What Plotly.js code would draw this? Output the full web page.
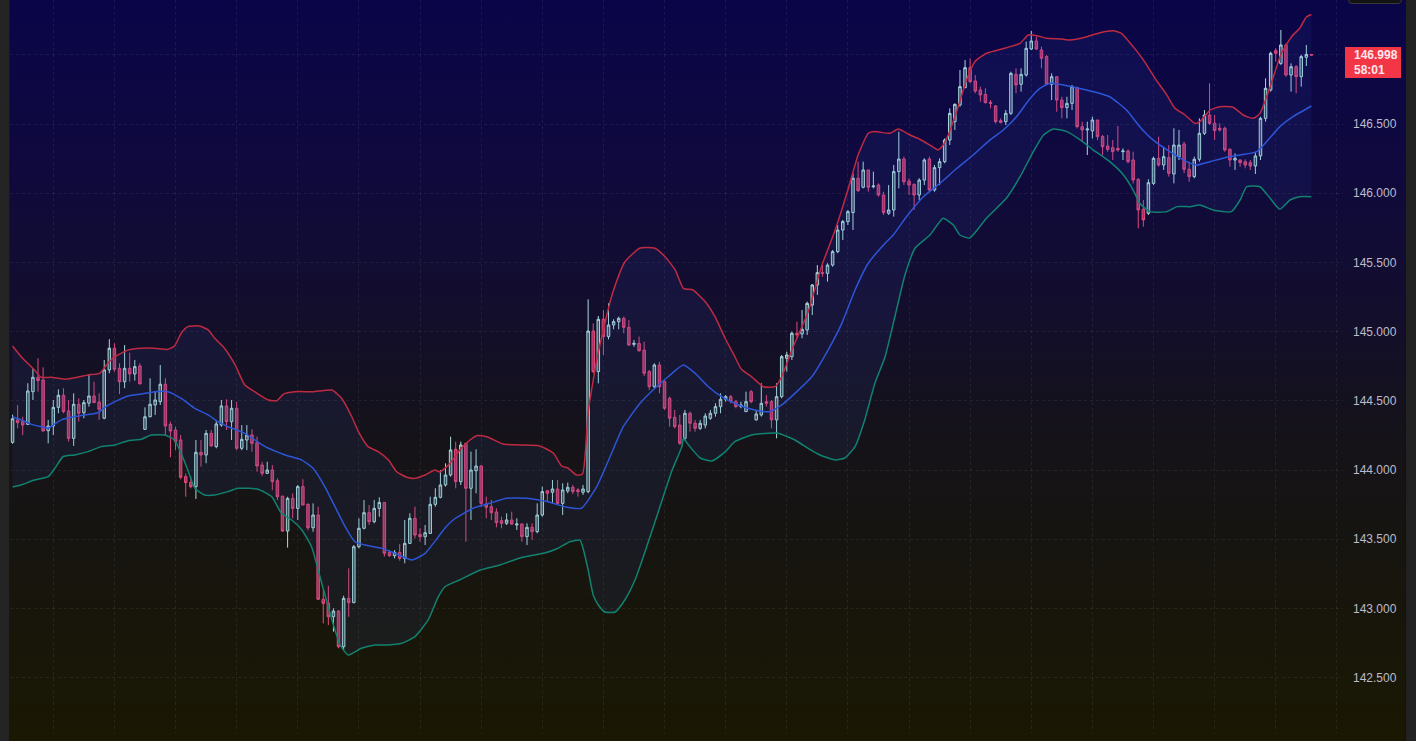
<!DOCTYPE html>
<html>
<head>
<meta charset="utf-8">
<script src="https://cdn.plot.ly/plotly-3.0.1.min.js"></script>
<style>
  html, body { margin: 0; padding: 0; background: #111; }
  #wrap { position: relative; width: 1416px; height: 741px; overflow: hidden;
    background: linear-gradient(to bottom, #0a0548 0%, #0f093e 22%, #130e2c 42%, #151318 60%, #17150d 78%, #1a1802 100%); }
  #lstrip { position: absolute; left: 0; top: 0; width: 9px; height: 741px; background: #242424; border-right: 1px solid #161616; }
  #rstrip { position: absolute; left: 1405px; top: 0; width: 11px; height: 741px; background: #222222; border-left: 1px solid #101010; }
  #btn { position: absolute; left: 1348px; top: -12px; width: 52px; height: 14px; background: #131313; border: 1px solid #3a3a3a; border-radius: 4px; }
  #chart { position: absolute; left: 0; top: 0; width: 1416px; height: 741px; }
</style>
</head>
<body>
<div id="wrap">
  <div id="lstrip"></div>
  <div id="rstrip"></div>
  <div id="chart"></div>
  <div id="btn"></div>
</div>
<script>
// ---- candle data (bar index 0..255) ----
const openP = [
144.200,144.362,144.350,144.330,144.566,144.670,144.650,144.284,144.318,144.453,
144.540,144.427,144.229,144.475,144.414,144.483,144.535,144.492,144.374,144.723,
144.880,144.735,144.638,144.735,144.694,144.752,144.294,144.385,144.470,144.494,
144.620,144.330,144.289,144.217,143.952,143.911,143.880,144.128,144.109,144.265,
144.169,144.325,144.463,144.349,144.446,144.157,144.217,144.253,144.197,144.036,
143.976,144.000,143.923,143.812,143.559,143.795,143.723,143.880,143.752,143.583,
143.675,143.066,143.037,142.940,142.981,142.724,143.073,143.042,143.446,143.579,
143.692,143.627,143.723,143.766,143.405,143.381,143.405,143.362,143.470,143.651,
143.535,143.518,143.542,143.752,143.803,143.892,143.964,144.150,143.916,144.193,
143.868,143.995,144.029,143.755,143.735,143.697,143.634,143.615,143.639,143.603,
143.610,143.519,143.586,143.555,143.675,143.851,143.839,143.863,143.759,143.849,
143.875,143.856,143.839,143.844,145.004,144.711,145.089,144.964,145.048,145.072,
145.096,145.031,144.908,144.915,144.867,144.711,144.602,144.759,144.639,144.518,
144.381,144.325,144.229,144.410,144.338,144.301,144.325,144.374,144.410,144.458,
144.511,144.530,144.494,144.458,144.422,144.566,144.362,144.398,144.494,144.494,
144.362,144.530,144.807,144.819,144.988,144.983,145.012,145.192,145.337,145.426,
145.421,145.481,145.578,145.734,145.795,145.860,146.108,146.043,146.168,146.047,
146.059,145.987,145.855,145.879,146.156,146.247,146.088,146.064,145.987,146.095,
146.247,146.023,146.185,146.228,146.384,146.517,146.637,146.763,146.907,146.811,
146.746,146.714,146.657,146.630,146.524,146.517,146.577,146.859,146.787,146.854,
147.042,147.100,147.035,146.987,146.787,146.842,146.673,146.618,146.649,146.763,
146.481,146.457,146.450,146.529,146.409,146.341,146.329,146.324,146.300,146.305,
146.240,146.100,145.884,145.855,146.071,146.252,146.204,146.257,146.139,146.264,
146.356,146.173,146.120,146.245,146.433,146.565,146.505,146.469,146.469,146.317,
146.240,146.240,146.228,146.221,146.197,146.269,146.541,146.746,147.030,146.938,
147.071,146.854,146.914,146.842,146.982,147.002];

const highP = [
144.400,144.470,144.385,144.627,144.735,144.807,144.742,144.362,144.506,144.583,
144.591,144.506,144.554,144.518,144.506,144.687,144.638,144.554,144.795,144.945,
144.916,144.771,144.903,144.848,144.795,144.771,144.453,144.663,144.566,144.759,
144.663,144.350,144.313,144.253,143.976,143.952,144.217,144.217,144.289,144.289,
144.362,144.506,144.511,144.506,144.494,144.325,144.325,144.294,144.241,144.060,
144.060,144.036,143.940,143.812,143.807,143.831,143.892,143.933,143.759,143.759,
143.735,143.133,143.164,143.001,142.989,143.092,143.290,143.458,143.651,143.783,
143.747,143.783,143.803,143.766,143.422,143.422,143.465,143.639,143.687,143.735,
143.579,143.603,143.807,143.868,144.000,144.048,144.241,144.205,144.205,144.193,
144.133,144.150,144.036,143.808,143.784,143.723,143.663,143.687,143.699,143.651,
143.615,143.615,143.615,143.759,143.880,143.856,143.928,143.928,143.904,143.909,
143.892,143.870,143.892,145.233,145.060,145.113,145.156,145.204,145.089,145.108,
145.108,145.084,144.939,144.964,144.927,144.723,144.771,144.783,144.651,144.530,
144.434,144.398,144.434,144.422,144.362,144.362,144.410,144.434,144.482,144.554,
144.542,144.542,144.506,144.494,144.566,144.578,144.434,144.627,144.542,144.506,
144.627,144.831,144.855,145.000,145.072,145.156,145.217,145.344,145.481,145.481,
145.494,145.590,145.770,145.807,145.879,146.144,146.228,146.228,146.168,146.156,
146.071,146.011,146.059,146.204,146.445,146.264,146.108,146.071,146.108,146.252,
146.264,146.204,146.252,146.396,146.613,146.649,146.890,146.962,146.974,146.854,
146.770,146.758,146.673,146.637,146.541,146.601,146.878,146.902,146.902,147.095,
147.172,147.131,147.059,146.999,146.866,146.842,146.697,146.697,146.782,146.770,
146.517,146.517,146.553,146.529,146.421,146.421,146.385,146.486,146.324,146.317,
146.300,146.108,145.951,146.100,146.264,146.409,146.336,146.348,146.469,146.457,
146.372,146.228,146.264,146.541,146.601,146.794,146.565,146.505,146.481,146.324,
146.288,146.245,146.245,146.240,146.293,146.553,146.830,147.023,147.047,147.179,
147.083,146.938,146.926,146.999,147.071,147.005];

const lowP = [
144.190,144.302,144.253,144.325,144.506,144.566,144.277,144.193,144.253,144.410,
144.410,144.205,144.174,144.350,144.374,144.458,144.483,144.362,144.367,144.699,
144.710,144.549,144.591,144.638,144.646,144.622,144.289,144.381,144.398,144.470,
144.253,144.092,144.145,143.933,143.807,143.868,143.791,144.024,144.049,144.169,
144.157,144.313,144.289,144.217,144.144,144.144,144.144,144.132,143.988,143.957,
143.971,143.855,143.783,143.554,143.439,143.651,143.639,143.747,143.566,143.554,
143.061,142.892,142.880,142.832,142.712,142.700,142.940,143.037,143.434,143.571,
143.603,143.615,143.663,143.374,143.374,143.362,143.345,143.326,143.465,143.506,
143.482,143.458,143.538,143.735,143.795,143.880,143.952,143.868,143.892,143.482,
143.639,143.832,143.735,143.651,143.639,143.586,143.579,143.603,143.603,143.567,
143.482,143.458,143.495,143.543,143.663,143.771,143.759,143.747,143.675,143.832,
143.827,143.808,143.820,143.832,144.699,144.626,144.831,144.944,145.017,145.017,
144.988,144.896,144.891,144.855,144.679,144.578,144.590,144.554,144.434,144.313,
144.301,144.181,144.217,144.277,144.277,144.289,144.301,144.362,144.386,144.410,
144.494,144.482,144.446,144.446,144.422,144.482,144.357,144.386,144.458,144.301,
144.229,144.518,144.711,144.795,144.952,144.952,144.976,145.120,145.265,145.397,
145.361,145.469,145.566,145.662,145.770,145.734,146.011,146.035,146.011,146.035,
145.975,145.843,145.843,145.831,146.035,146.059,145.987,145.879,145.951,146.059,
146.011,146.011,146.059,146.216,146.348,146.457,146.625,146.758,146.794,146.722,
146.661,146.649,146.613,146.505,146.505,146.493,146.565,146.722,146.734,146.842,
147.035,147.035,146.902,146.782,146.673,146.589,146.541,146.541,146.601,146.469,
146.372,146.276,146.396,146.384,146.276,146.300,146.240,146.300,146.240,146.216,
146.071,145.746,145.758,145.843,146.059,146.192,146.168,146.120,146.071,146.240,
146.144,146.083,146.108,146.228,146.421,146.493,146.385,146.445,146.300,146.192,
146.168,146.192,146.180,146.168,146.139,146.240,146.517,146.734,146.950,146.926,
146.842,146.734,146.722,146.770,146.919,146.996];

const closeP = [
144.370,144.342,144.325,144.571,144.670,144.646,144.282,144.318,144.453,144.540,
144.422,144.229,144.475,144.410,144.487,144.535,144.487,144.439,144.723,144.880,
144.728,144.638,144.735,144.694,144.747,144.622,144.385,144.475,144.506,144.620,
144.318,144.282,144.205,143.948,143.909,143.880,144.128,144.109,144.265,144.174,
144.333,144.463,144.350,144.446,144.157,144.222,144.253,144.193,144.029,143.976,
144.000,143.916,143.807,143.559,143.795,143.723,143.880,143.747,143.583,143.675,
143.066,143.037,142.940,142.981,142.724,143.073,143.042,143.446,143.579,143.692,
143.627,143.723,143.766,143.398,143.381,143.405,143.362,143.470,143.651,143.530,
143.518,143.547,143.752,143.803,143.892,143.964,144.145,143.916,144.181,143.868,
144.000,144.029,143.759,143.731,143.692,143.620,143.615,143.639,143.610,143.610,
143.519,143.586,143.555,143.675,143.844,143.832,143.863,143.759,143.856,143.875,
143.844,143.844,143.863,145.004,144.711,145.089,144.964,145.048,145.072,145.096,
145.031,144.903,144.915,144.862,144.699,144.602,144.759,144.602,144.446,144.374,
144.313,144.193,144.410,144.338,144.301,144.338,144.390,144.410,144.458,144.511,
144.530,144.494,144.458,144.470,144.494,144.494,144.405,144.482,144.482,144.362,
144.530,144.819,144.831,144.988,144.976,145.017,145.204,145.337,145.426,145.421,
145.481,145.578,145.734,145.795,145.867,146.108,146.018,146.168,146.043,146.052,
145.987,145.860,145.879,146.156,146.247,146.083,146.059,145.987,146.095,146.240,
146.023,146.185,146.228,146.384,146.577,146.642,146.770,146.907,146.806,146.738,
146.710,146.654,146.649,146.517,146.512,146.577,146.866,146.782,146.859,147.047,
147.100,147.042,146.975,146.787,146.842,146.673,146.618,146.649,146.770,146.481,
146.457,146.464,146.529,146.409,146.336,146.317,146.300,146.312,146.305,146.228,
146.096,145.879,145.807,146.076,146.252,146.204,146.264,146.144,146.348,146.348,
146.173,146.120,146.245,146.433,146.565,146.505,146.452,146.457,146.312,146.240,
146.252,146.221,146.204,146.197,146.269,146.541,146.758,147.011,147.011,147.071,
146.854,146.914,146.842,146.987,147.003,146.998];

// ---- Bollinger bands: [bar position, price] ----
const upperBand = [[0,144.896],[1.7,144.819],[4.3,144.723],[5.6,144.670],[7.6,144.670],[10.2,144.656],[12.8,144.670],[14.8,144.687],[17.1,144.699],[18.7,144.771],[20.1,144.819],[22.7,144.867],[25.3,144.880],[27.9,144.880],[30.5,144.872],[31.8,144.896],[33.1,144.988],[34.4,145.036],[36.7,145.041],[38.4,145.012],[39.7,144.952],[41.6,144.880],[43.7,144.759],[45.6,144.614],[47.6,144.564],[50.2,144.506],[51.9,144.501],[53.2,144.549],[55.4,144.566],[59,144.566],[62.7,144.578],[64.6,144.518],[66.6,144.385],[67.9,144.277],[69.8,144.169],[71.8,144.133],[73.8,144.072],[75.4,143.988],[77.4,143.948],[79,143.940],[81,143.964],[82.9,144.000],[83.9,143.986],[85.9,144.049],[87.8,144.145],[89.8,144.217],[91.1,144.248],[93.1,144.241],[96.3,144.188],[99.6,144.181],[103.5,144.174],[106.2,144.121],[107.8,144.029],[109.1,144.013],[110.7,143.964],[111.9,143.971],[113,144.419],[114,144.650],[115,144.853],[116,145.012],[117,145.171],[118,145.301],[120.2,145.503],[123.2,145.604],[126.1,145.602],[128.1,145.541],[130.1,145.445],[131.7,145.313],[133.6,145.301],[136,145.216],[137.9,145.108],[139.9,144.952],[141.8,144.819],[143.1,144.728],[145.1,144.674],[147.4,144.602],[149.7,144.602],[151,144.674],[153,144.867],[156.2,145.144],[158.8,145.469],[161.5,145.734],[164.1,146.036],[166,146.276],[168,146.433],[169.3,146.445],[172.3,146.433],[173.9,146.464],[176.2,146.421],[178.1,146.390],[180.1,146.348],[181.7,146.312],[182.7,146.348],[183.7,146.421],[185.3,146.585],[187.3,146.818],[188.9,146.950],[191.2,147.011],[195.1,147.051],[197.8,147.083],[199.4,147.143],[201.1,147.138],[203,147.119],[206,147.114],[207.6,147.107],[210.9,147.131],[213.5,147.160],[216.1,147.174],[217.7,147.155],[220,147.059],[222,146.963],[224.3,146.830],[226.6,146.710],[228.2,146.614],[230.2,146.565],[232.1,146.505],[233.1,146.517],[235.1,146.601],[237,146.625],[239.6,146.621],[241.6,146.565],[243.6,146.541],[244.9,146.577],[246.9,146.770],[249.1,147.011],[251.1,147.131],[252.7,147.192],[254,147.273],[255,147.291]];

const middleBand = [[0,144.385],[1.7,144.362],[3.7,144.330],[5.6,144.313],[7,144.302],[8.3,144.333],[9.6,144.362],[11.5,144.381],[14.2,144.398],[16.8,144.414],[18.1,144.453],[20.1,144.494],[22.7,144.535],[25.3,144.549],[27.9,144.566],[30.5,144.566],[33.1,144.518],[35.8,144.446],[38.4,144.398],[40.3,144.349],[42.3,144.313],[45.6,144.265],[49.6,144.169],[53.5,144.109],[56.8,144.072],[59,144.013],[61.3,143.880],[63.3,143.735],[65.3,143.591],[67.2,143.482],[69.2,143.458],[72.5,143.434],[75.1,143.398],[78.4,143.350],[81,143.398],[83.6,143.518],[84.9,143.581],[86.5,143.639],[90.4,143.724],[93.7,143.760],[97,143.796],[100.9,143.796],[104.9,143.772],[108.8,143.731],[111.7,143.724],[114.7,143.880],[117.3,144.096],[119.9,144.313],[123.2,144.482],[126.1,144.591],[128.7,144.674],[131.7,144.759],[134,144.699],[136.6,144.602],[139.2,144.530],[142.5,144.470],[145.7,144.434],[148.7,144.422],[151,144.470],[153.6,144.554],[156.9,144.674],[160.1,144.867],[162.8,145.060],[165.4,145.301],[168,145.494],[171.3,145.638],[172.9,145.698],[175.5,145.830],[178.8,145.975],[182.1,146.072],[185.4,146.180],[188.6,146.276],[191.9,146.385],[194.5,146.457],[197.1,146.553],[199.8,146.686],[201.7,146.758],[203.7,146.794],[206.3,146.782],[208.9,146.762],[212.2,146.733],[215.4,146.697],[218.7,146.601],[221.3,146.481],[223.9,146.385],[227.2,146.300],[230.5,146.228],[232.5,146.204],[235.1,146.228],[238.4,146.260],[241,146.276],[244.3,146.300],[246.2,146.372],[248.8,146.481],[251.4,146.553],[255,146.630]];

const lowerBand = [[0,143.877],[1.7,143.892],[4.3,143.928],[7,143.952],[8.3,144.012],[9.9,144.096],[12.2,144.109],[14.8,144.133],[17.4,144.169],[20.1,144.181],[22.7,144.212],[25.3,144.222],[27.2,144.253],[29.9,144.253],[31.8,144.217],[33.1,144.121],[34.4,144.000],[35.8,143.868],[37.7,143.820],[39.7,143.820],[42.3,143.844],[44.3,143.868],[48.2,143.861],[50.9,143.807],[52.8,143.687],[54.8,143.639],[56.8,143.567],[58.7,143.446],[60.7,143.182],[62.7,142.917],[64.3,142.736],[65.9,142.664],[68.5,142.712],[71.2,142.736],[73.8,142.736],[76.4,142.748],[79,142.796],[81.6,142.917],[83.6,143.085],[84.9,143.157],[87.8,143.206],[91.8,143.278],[95.7,143.314],[99.6,143.365],[104.5,143.401],[107.1,143.435],[109.4,143.482],[111.4,143.494],[112,143.435],[113,143.278],[114,143.097],[115,143.025],[116.3,142.974],[118.3,142.974],[120.2,143.061],[122.2,143.205],[124.5,143.446],[127.1,143.735],[129.5,144.000],[131.4,144.169],[131.7,144.229],[132.7,144.181],[135,144.087],[137.3,144.065],[139.9,144.131],[141.8,144.205],[145.1,144.253],[148.4,144.266],[150.3,144.266],[153.6,144.217],[156.2,144.157],[158.5,144.109],[161.5,144.073],[163.4,144.087],[165.4,144.169],[167.3,144.362],[169.3,144.627],[171.3,144.819],[173.3,145.120],[175.2,145.409],[177.2,145.604],[180.1,145.698],[182.7,145.819],[184.7,145.770],[186,145.698],[187.9,145.676],[191.2,145.819],[195.1,145.963],[197.8,146.119],[200.4,146.300],[202.4,146.421],[204.3,146.464],[207,146.445],[209.6,146.385],[212.2,146.312],[215.4,146.228],[218.1,146.132],[220,146.023],[221.3,145.927],[223.3,145.867],[226.6,145.867],[228.6,145.903],[231.2,145.903],[233.1,145.915],[235.7,145.879],[239.3,145.867],[241,145.951],[242.3,146.047],[244.9,146.047],[246.9,145.963],[248.8,145.884],[250.8,145.951],[252.7,145.975],[255,145.975]];

// ---- axis ticks ----
const priceTicks = [142.5, 143.0, 143.5, 144.0, 144.5, 145.0, 145.5, 146.0, 146.5, 147.0];
const priceTickText = ['142.500','143.000','143.500','144.000','144.500','145.000','145.500','146.000','146.500',''];
const timeGridBars = [8,20,32,44,56,68,80,92,104,116,128,140,152,164,176,188,200,212,224,236,248,260];
const lastPrice = 146.998;
const countdown = '58:01';

const bars = openP.map((_, i) => i);
const bx = a => a.map(p => p[0]);
const by = a => a.map(p => p[1]);

const lineStyle = { shape: 'spline', smoothing: 0.5 };
const traces = [
  { x: bx(lowerBand), y: by(lowerBand), type: 'scatter', mode: 'lines',
    line: Object.assign({ width: 0, color: 'rgba(0,0,0,0)' }, lineStyle), hoverinfo: 'skip', showlegend: false },
  { x: bx(upperBand), y: by(upperBand), type: 'scatter', mode: 'lines', fill: 'tonexty',
    fillcolor: 'rgba(63,91,193,0.10)',
    line: Object.assign({ width: 0, color: 'rgba(0,0,0,0)' }, lineStyle), hoverinfo: 'skip', showlegend: false },
  { x: bx(upperBand), y: by(upperBand), type: 'scatter', mode: 'lines',
    line: Object.assign({ width: 1.5, color: '#bf2a43' }, lineStyle), hoverinfo: 'skip', showlegend: false },
  { x: bx(middleBand), y: by(middleBand), type: 'scatter', mode: 'lines',
    line: Object.assign({ width: 1.5, color: '#2d55d8' }, lineStyle), hoverinfo: 'skip', showlegend: false },
  { x: bx(lowerBand), y: by(lowerBand), type: 'scatter', mode: 'lines',
    line: Object.assign({ width: 1.5, color: '#128270' }, lineStyle), hoverinfo: 'skip', showlegend: false },
  { x: bars, open: openP, high: highP, low: lowP, close: closeP, type: 'candlestick',
    increasing: { line: { color: '#a9dcdc', width: 1 }, fillcolor: 'rgba(169,220,220,0.30)' },
    decreasing: { line: { color: '#e2497e', width: 1 }, fillcolor: 'rgba(226,73,126,0.65)' },
    whiskerwidth: 0, hoverinfo: 'skip', showlegend: false }
];

const gridCol = 'rgba(255,255,255,0.07)';
const layout = {
  width: 1416, height: 741,
  margin: { l: 10, r: 73, t: 0, b: 8, pad: 0 },
  paper_bgcolor: 'rgba(0,0,0,0)', plot_bgcolor: 'rgba(0,0,0,0)',
  showlegend: false,
  font: { family: 'Liberation Sans, Arial, sans-serif', size: 12, color: '#b8b6c8' },
  xaxis: { range: [-0.5, 261.2], showticklabels: false, ticks: '', tickmode: 'array', tickvals: timeGridBars,
    showgrid: true, gridcolor: gridCol, griddash: 'dot', gridwidth: 1, zeroline: false, showline: false,
    rangeslider: { visible: false }, fixedrange: true },
  yaxis: { side: 'right', range: [142.100, 147.396], tickmode: 'array', tickvals: priceTicks, ticktext: priceTickText,
    showgrid: true, gridcolor: gridCol, griddash: 'dot', gridwidth: 1, zeroline: false, showline: false,
    ticks: '', ticklabelstandoff: 9, tickfont: { size: 12, color: '#bdbbcc' }, fixedrange: true },
  shapes: [
    { type: 'rect', xref: 'paper', yref: 'y', xsizemode: 'pixel', ysizemode: 'pixel',
      xanchor: 1, yanchor: lastPrice, x0: 2, x1: 58, y0: -23, y1: 8,
      fillcolor: '#f23645', line: { width: 0 }, layer: 'above' }
  ],
  annotations: [
    { xref: 'paper', yref: 'y', x: 1, y: lastPrice, xanchor: 'left', yanchor: 'middle', xshift: 9, yshift: 0,
      text: lastPrice.toFixed(3), showarrow: false, font: { size: 12, color: '#ffe8ee', weight: 'bold' } },
    { xref: 'paper', yref: 'y', x: 1, y: lastPrice, xanchor: 'left', yanchor: 'middle', xshift: 9, yshift: -15,
      text: countdown, showarrow: false, font: { size: 12, color: '#ffe8ee', weight: 'bold' } }
  ]
};

Plotly.newPlot('chart', traces, layout, { displayModeBar: false, staticPlot: true });
</script>
</body>
</html>
